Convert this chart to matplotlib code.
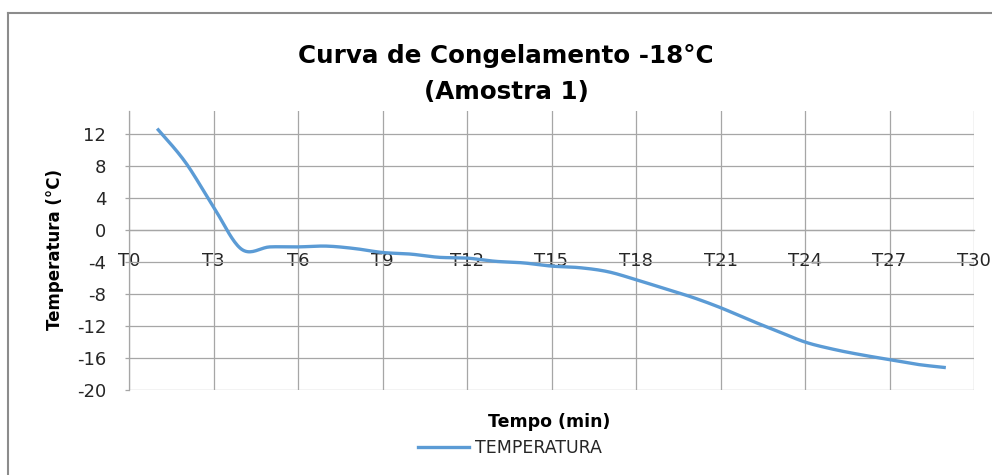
import numpy as np
import matplotlib
matplotlib.use("Agg")
import matplotlib.pyplot as plt
from matplotlib.lines import Line2D

# ---- data ----
time_idx = list(range(1, 30))  # T1..T29
temperature = [12.7, 8.5, 2.9, -2.4, -2.1, -2.1, -2.0, -2.3, -2.8, -3.0,
               -3.4, -3.5, -3.9, -4.1, -4.5, -4.7, -5.2, -6.2, -7.3, -8.4,
               -9.7, -11.2, -12.6, -14.0, -14.9, -15.6, -16.2, -16.8, -17.2]
xtick_pos = list(range(0, 31, 3))
xtick_labels = [f"T{i}" for i in xtick_pos]
ytick_vals = list(range(-20, 13, 4))

title = "Curva de Congelamento -18°C\n(Amostra 1)"
xlabel = "Tempo (min)"
ylabel = "Temperatura (°C)"
series_name = "TEMPERATURA"

plt.rcParams['font.family'] = ['DejaVu Sans']


def smooth(x, y, n=20):
    """Catmull-Rom style smoothing (like Excel's smoothed line) for drawing."""
    x = np.asarray(x, float)
    y = np.asarray(y, float)
    px = np.concatenate([[x[0]], x, [x[-1]]])
    py = np.concatenate([[y[0]], y, [y[-1]]])
    xs, ys = [], []
    for i in range(1, len(px) - 2):
        p0 = np.array([px[i - 1], py[i - 1]])
        p1 = np.array([px[i], py[i]])
        p2 = np.array([px[i + 1], py[i + 1]])
        p3 = np.array([px[i + 2], py[i + 2]])
        c1 = p1 + (p2 - p0) / 6
        c2 = p2 - (p3 - p1) / 6
        t = np.linspace(0, 1, n, endpoint=(i == len(px) - 3))[:, None]
        pts = ((1 - t) ** 3) * p1 + 3 * ((1 - t) ** 2) * t * c1 + 3 * (1 - t) * t ** 2 * c2 + t ** 3 * p2
        xs.extend(pts[:, 0])
        ys.extend(pts[:, 1])
    return np.array(xs), np.array(ys)


W, H = 992, 475
fig = plt.figure(figsize=(W / 100, H / 100), dpi=100)
left, right = 129 / W, 974 / W
bottom, top = 1 - 390 / H, 1 - 111 / H
ax = fig.add_axes([left, bottom, right - left, top - bottom])

grid_c = '#a6a6a6'
sx, sy = smooth(time_idx, temperature)
ax.plot(sx, sy, color='#5B9BD5', lw=2.4, solid_capstyle='butt', label=series_name, zorder=3)

ax.set_xlim(0, 30)
ax.set_ylim(-20, 14.9)
ax.set_xticks(xtick_pos)
ax.set_xticklabels(xtick_labels)
ax.set_yticks(ytick_vals)
ax.set_yticklabels([str(v) for v in ytick_vals])
ax.grid(True, color=grid_c, lw=0.9, zorder=0)
ax.set_axisbelow(True)

for s in ['top', 'right']:
    ax.spines[s].set_visible(False)
ax.spines['left'].set_color(grid_c)
ax.spines['left'].set_linewidth(0.9)
ax.spines['bottom'].set_position(('data', 0))
ax.spines['bottom'].set_color(grid_c)
ax.spines['bottom'].set_linewidth(0.9)

ax.tick_params(axis='x', length=0, pad=16, labelsize=13, colors='#262626')
ax.tick_params(axis='y', length=3, width=0.9, color=grid_c, pad=13.5, labelsize=13, labelcolor='#262626')
for lab in ax.get_yticklabels():
    lab.set_zorder(5)

fig.text(506 / W, 1 - 74 / H, title, ha='center', va='center', fontsize=17.7,
         fontweight='bold', color='black', linespacing=1.68)
fig.text(549 / W, 1 - 422 / H, xlabel, ha='center', va='center', fontsize=12.5,
         fontweight='bold', color='black')
fig.text(55 / W, 1 - 250 / H, ylabel, ha='center', va='center', fontsize=12,
         fontweight='bold', color='black', rotation=90)

leg = fig.legend(handles=[Line2D([], [], color='#5B9BD5', lw=2.4)], labels=[series_name],
                 loc='center', bbox_to_anchor=(510 / W, 1 - 448 / H), frameon=False,
                 fontsize=12.5, handlelength=2.9, handletextpad=0.35)
for t in leg.get_texts():
    t.set_color('#262626')

# chart-area border (top and left visible)
bc = '#8c8c8c'
fig.add_artist(Line2D([8 / W, 1], [1 - 13 / H, 1 - 13 / H], color=bc, lw=1.5, transform=fig.transFigure))
fig.add_artist(Line2D([8 / W, 8 / W], [0, 1 - 13 / H], color=bc, lw=1.5, transform=fig.transFigure))

fig.savefig('out.png', dpi=100)
